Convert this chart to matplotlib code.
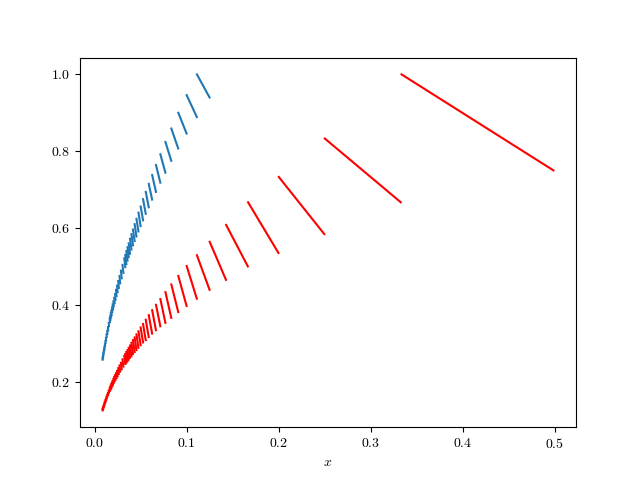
"""
plot.py

Piecewise segments on [1/(n+1), 1/n): red family starts at n = 2,
blue family starts at n = 8.  Saves out.png.
"""

import matplotlib
matplotlib.use("Agg")
import matplotlib.pyplot as plt

plt.rcParams["font.family"] = "serif"
plt.rcParams["font.serif"] = ["cmr10"]
plt.rcParams["mathtext.fontset"] = "cm"
plt.rcParams["axes.formatter.use_mathtext"] = True

# ── data ─────────────────────────────────────────────────────────────────────
# every n up to 30, then thinned where segments merge into one band

RED_N = list(range(2, 31)) + list(range(32, 61, 2)) + list(range(64, 113, 4)) + [115]
RED_Y0 = [1.000, 0.833, 0.733, 0.667, 0.608, 0.564, 0.529, 0.501,
          0.475, 0.453, 0.433, 0.415, 0.400, 0.386, 0.373, 0.361, 0.350, 0.341,
          0.331, 0.323, 0.315, 0.308, 0.301, 0.294, 0.288, 0.282, 0.277, 0.272, 0.267,
          0.258, 0.249, 0.242, 0.235, 0.228, 0.222, 0.217, 0.212, 0.207, 0.202,
          0.198, 0.194, 0.190, 0.186, 0.183,
          0.177, 0.171, 0.166, 0.161, 0.156, 0.152, 0.148, 0.145, 0.141, 0.138,
          0.135, 0.132, 0.130, 0.128]
RED_Y1 = [0.750, 0.667, 0.584, 0.535, 0.500, 0.465, 0.439, 0.416,
          0.397, 0.381, 0.366, 0.353, 0.344, 0.334, 0.325, 0.316, 0.308, 0.302,
          0.295, 0.288, 0.282, 0.277, 0.272, 0.266, 0.262, 0.257, 0.253, 0.249, 0.246,
          0.239, 0.232, 0.226, 0.220, 0.214, 0.209, 0.205, 0.201, 0.197, 0.192,
          0.189, 0.185, 0.182, 0.179, 0.176,
          0.171, 0.165, 0.161, 0.156, 0.151, 0.148, 0.144, 0.141, 0.137, 0.135,
          0.132, 0.129, 0.127, 0.125]

BLUE_N = list(range(8, 31)) + list(range(32, 61, 2)) + list(range(64, 113, 4)) + [115]
BLUE_Y0 = [1.000, 0.946, 0.900, 0.859, 0.824, 0.792, 0.764, 0.738, 0.715, 0.694,
           0.675, 0.656, 0.640, 0.624, 0.610, 0.596, 0.584, 0.572, 0.560, 0.550,
           0.540, 0.530, 0.521,
           0.504, 0.489, 0.475, 0.462, 0.450, 0.439, 0.428, 0.418, 0.409, 0.401,
           0.393, 0.385, 0.378, 0.371, 0.365,
           0.353, 0.342, 0.332, 0.323, 0.314, 0.306, 0.299, 0.292, 0.286, 0.280,
           0.274, 0.269, 0.264, 0.260]
BLUE_Y1 = [0.940, 0.889, 0.846, 0.807, 0.775, 0.744, 0.718, 0.694, 0.674, 0.654,
           0.637, 0.620, 0.605, 0.591, 0.578, 0.566, 0.555, 0.544, 0.533, 0.524,
           0.515, 0.506, 0.498,
           0.483, 0.469, 0.456, 0.444, 0.433, 0.423, 0.413, 0.404, 0.396, 0.388,
           0.381, 0.373, 0.367, 0.361, 0.355,
           0.344, 0.333, 0.324, 0.316, 0.307, 0.300, 0.293, 0.286, 0.281, 0.275,
           0.270, 0.265, 0.260, 0.257]

COLORS = {"blue": "#1f77b4", "red": "red"}


def draw_family(ax, ns, y0, y1, color):
    for n, a, b in zip(ns, y0, y1):
        left, right = 1 / (n + 1), 1 / n
        # segment stops just short of 1/n (half-open interval)
        right -= 0.01 * (right - left)
        ax.plot([left, right], [a, b], color=color, linewidth=1.5)


def main():
    fig, ax = plt.subplots(figsize=(6.4, 4.8), dpi=100)
    draw_family(ax, BLUE_N, BLUE_Y0, BLUE_Y1, COLORS["blue"])
    draw_family(ax, RED_N, RED_Y0, RED_Y1, COLORS["red"])
    ax.set_xlabel("$x$")
    fig.savefig("out.png", dpi=100)
    plt.close(fig)


if __name__ == "__main__":
    main()
